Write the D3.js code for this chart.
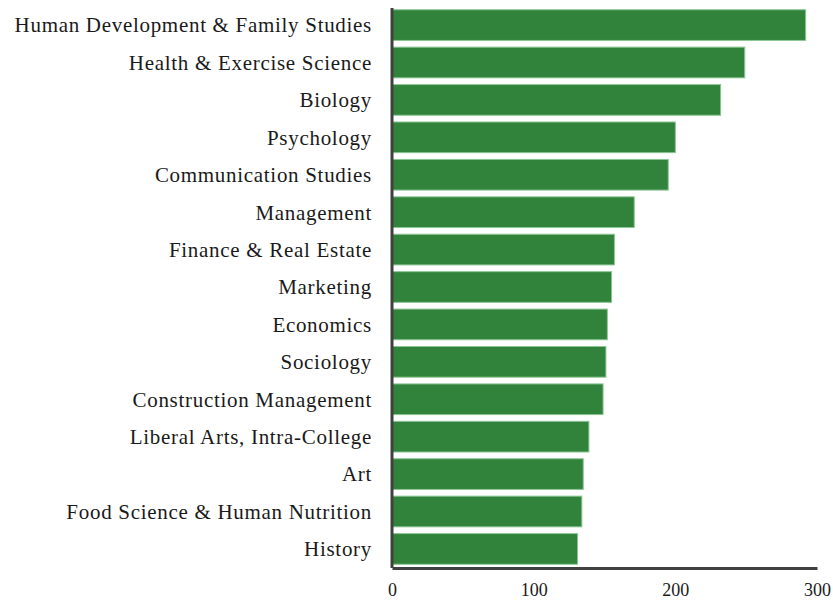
<!DOCTYPE html>
<html>
<head>
<meta charset="utf-8">
<script src="https://cdn.jsdelivr.net/npm/d3@7"></script>
<style>
  html, body { margin: 0; padding: 0; background: #fff; }
  svg { display: block; }
  text { font-family: "Liberation Serif", "DejaVu Serif", serif; fill: #1a1a1a; }
</style>
</head>
<body>
<svg id="chart" width="833" height="602"></svg>
<script>
const categories = [
  "Human Development & Family Studies",
  "Health & Exercise Science",
  "Biology",
  "Psychology",
  "Communication Studies",
  "Management",
  "Finance & Real Estate",
  "Marketing",
  "Economics",
  "Sociology",
  "Construction Management",
  "Liberal Arts, Intra-College",
  "Art",
  "Food Science & Human Nutrition",
  "History"
];
const values = [292, 249, 232, 200, 195, 171, 157, 155, 152, 151, 149, 139, 135, 134, 131];
const tickValues = [0, 100, 200, 300];

const svg = d3.select("#chart");
const margin = { left: 392, right: 16, top: 6, bottom: 34 };
const W = 833, H = 602;

const x = d3.scaleLinear().domain([0, 300]).range([margin.left, W - margin.right]);
const y = d3.scaleBand().domain(categories).range([margin.top, H - margin.bottom]).paddingInner(0.18).paddingOuter(0.1);

svg.append("g").selectAll("rect").data(values).join("rect")
  .attr("x", x(0))
  .attr("y", (d, i) => y(categories[i]))
  .attr("width", d => x(d) - x(0))
  .attr("height", y.bandwidth())
  .attr("fill", "#31823a")
  .attr("stroke", "#8cc695")
  .attr("stroke-width", 1);

// left category labels
svg.append("g").selectAll("text").data(categories).join("text")
  .attr("x", x(0) - 20)
  .attr("y", d => y(d) + y.bandwidth() / 2)
  .attr("dy", "0.35em")
  .attr("text-anchor", "end")
  .style("font-size", "21px")
  .style("letter-spacing", "0.7px")
  .text(d => d);

// bottom axis
const xAxis = d3.axisBottom(x).tickValues(tickValues).tickSize(0).tickPadding(15).tickFormat(d3.format("d"));
const gx = svg.append("g").attr("transform", `translate(0,${H - margin.bottom})`).call(xAxis);
gx.select(".domain").attr("stroke", "#404040").attr("stroke-width", 3);
gx.selectAll("text").style("font-size", "18px").attr("fill", "#1a1a1a").style("font-family", "'Liberation Serif', serif");

// left axis line
const yAxis = d3.axisLeft(y).tickSize(0).tickFormat("");
const gy = svg.append("g").attr("transform", `translate(${x(0)},0)`).call(yAxis);
gy.select(".domain").attr("stroke", "#404040").attr("stroke-width", 3).attr("d", `M0,${margin.top + 2}V${H - margin.bottom}`);
</script>
</body>
</html>
